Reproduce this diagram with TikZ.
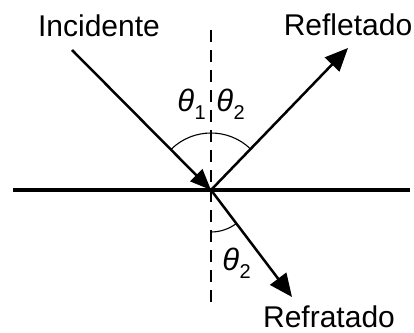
\documentclass[tikz,border=0pt]{standalone}
\usepackage{fontspec}
\setmainfont{Liberation Sans}
\usetikzlibrary{arrows.meta}
\newcommand{\thsub}[1]{\textit{θ}\kern0.01em\raisebox{-8pt}{\fontsize{20}{20}\selectfont #1}}
\tikzset{
  ray/.style={line width=2.5pt},
  bigtip/.style={-{Triangle[length=23pt,width=20pt]}},
  lbl/.style={font=\fontsize{30}{30}\selectfont, anchor=base, inner sep=0pt},
  ang/.style={font=\fontsize{31}{31}\selectfont, inner sep=0pt},
  arcline/.style={line width=1.1pt},
}
\begin{document}
\begin{tikzpicture}[x=1pt,y=1pt]
\useasboundingbox (0,0) rectangle (414,332);
\coordinate (O) at (211,142);
\coordinate (inc) at (72,282);
\coordinate (refl) at (348,284);
\coordinate (refr) at (292,35);
\coordinate (hl) at (13,142);
\coordinate (hr) at (410,142);
\coordinate (vt) at (211,302);
\coordinate (vb) at (211,27);
% surface
\draw[line width=3.2pt] (hl) -- (hr);
% normal
\draw[line width=1.7pt, dash pattern=on 12pt off 8pt] (vt) -- (vb);
% rays
\draw[ray, -{Triangle[length=21pt,width=17pt]}] (inc) -- (O);
\draw[ray, bigtip] (O) -- (refl);
\draw[ray, bigtip] (O) -- (refr);
% arcs
\draw[arcline] (O) ++(134.5:57) arc[start angle=134.5, end angle=46, radius=57];
\draw[arcline] (O) ++(270:42) arc[start angle=270, end angle=307, radius=42];
% labels
\node[lbl] (tinc) at (99,295) {Incidente};
\node[lbl] (trefl) at (348,296) {Refletado};
\node[lbl] (trefr) at (329,5) {Refratado};
\node[ang] (t1) at (191.5,227.5) {\thsub{1}};
\node[ang] (t2) at (230.5,227.5) {\thsub{2}};
\node[ang] (t3) at (236.5,69) {\thsub{2}};
\end{tikzpicture}
\end{document}
